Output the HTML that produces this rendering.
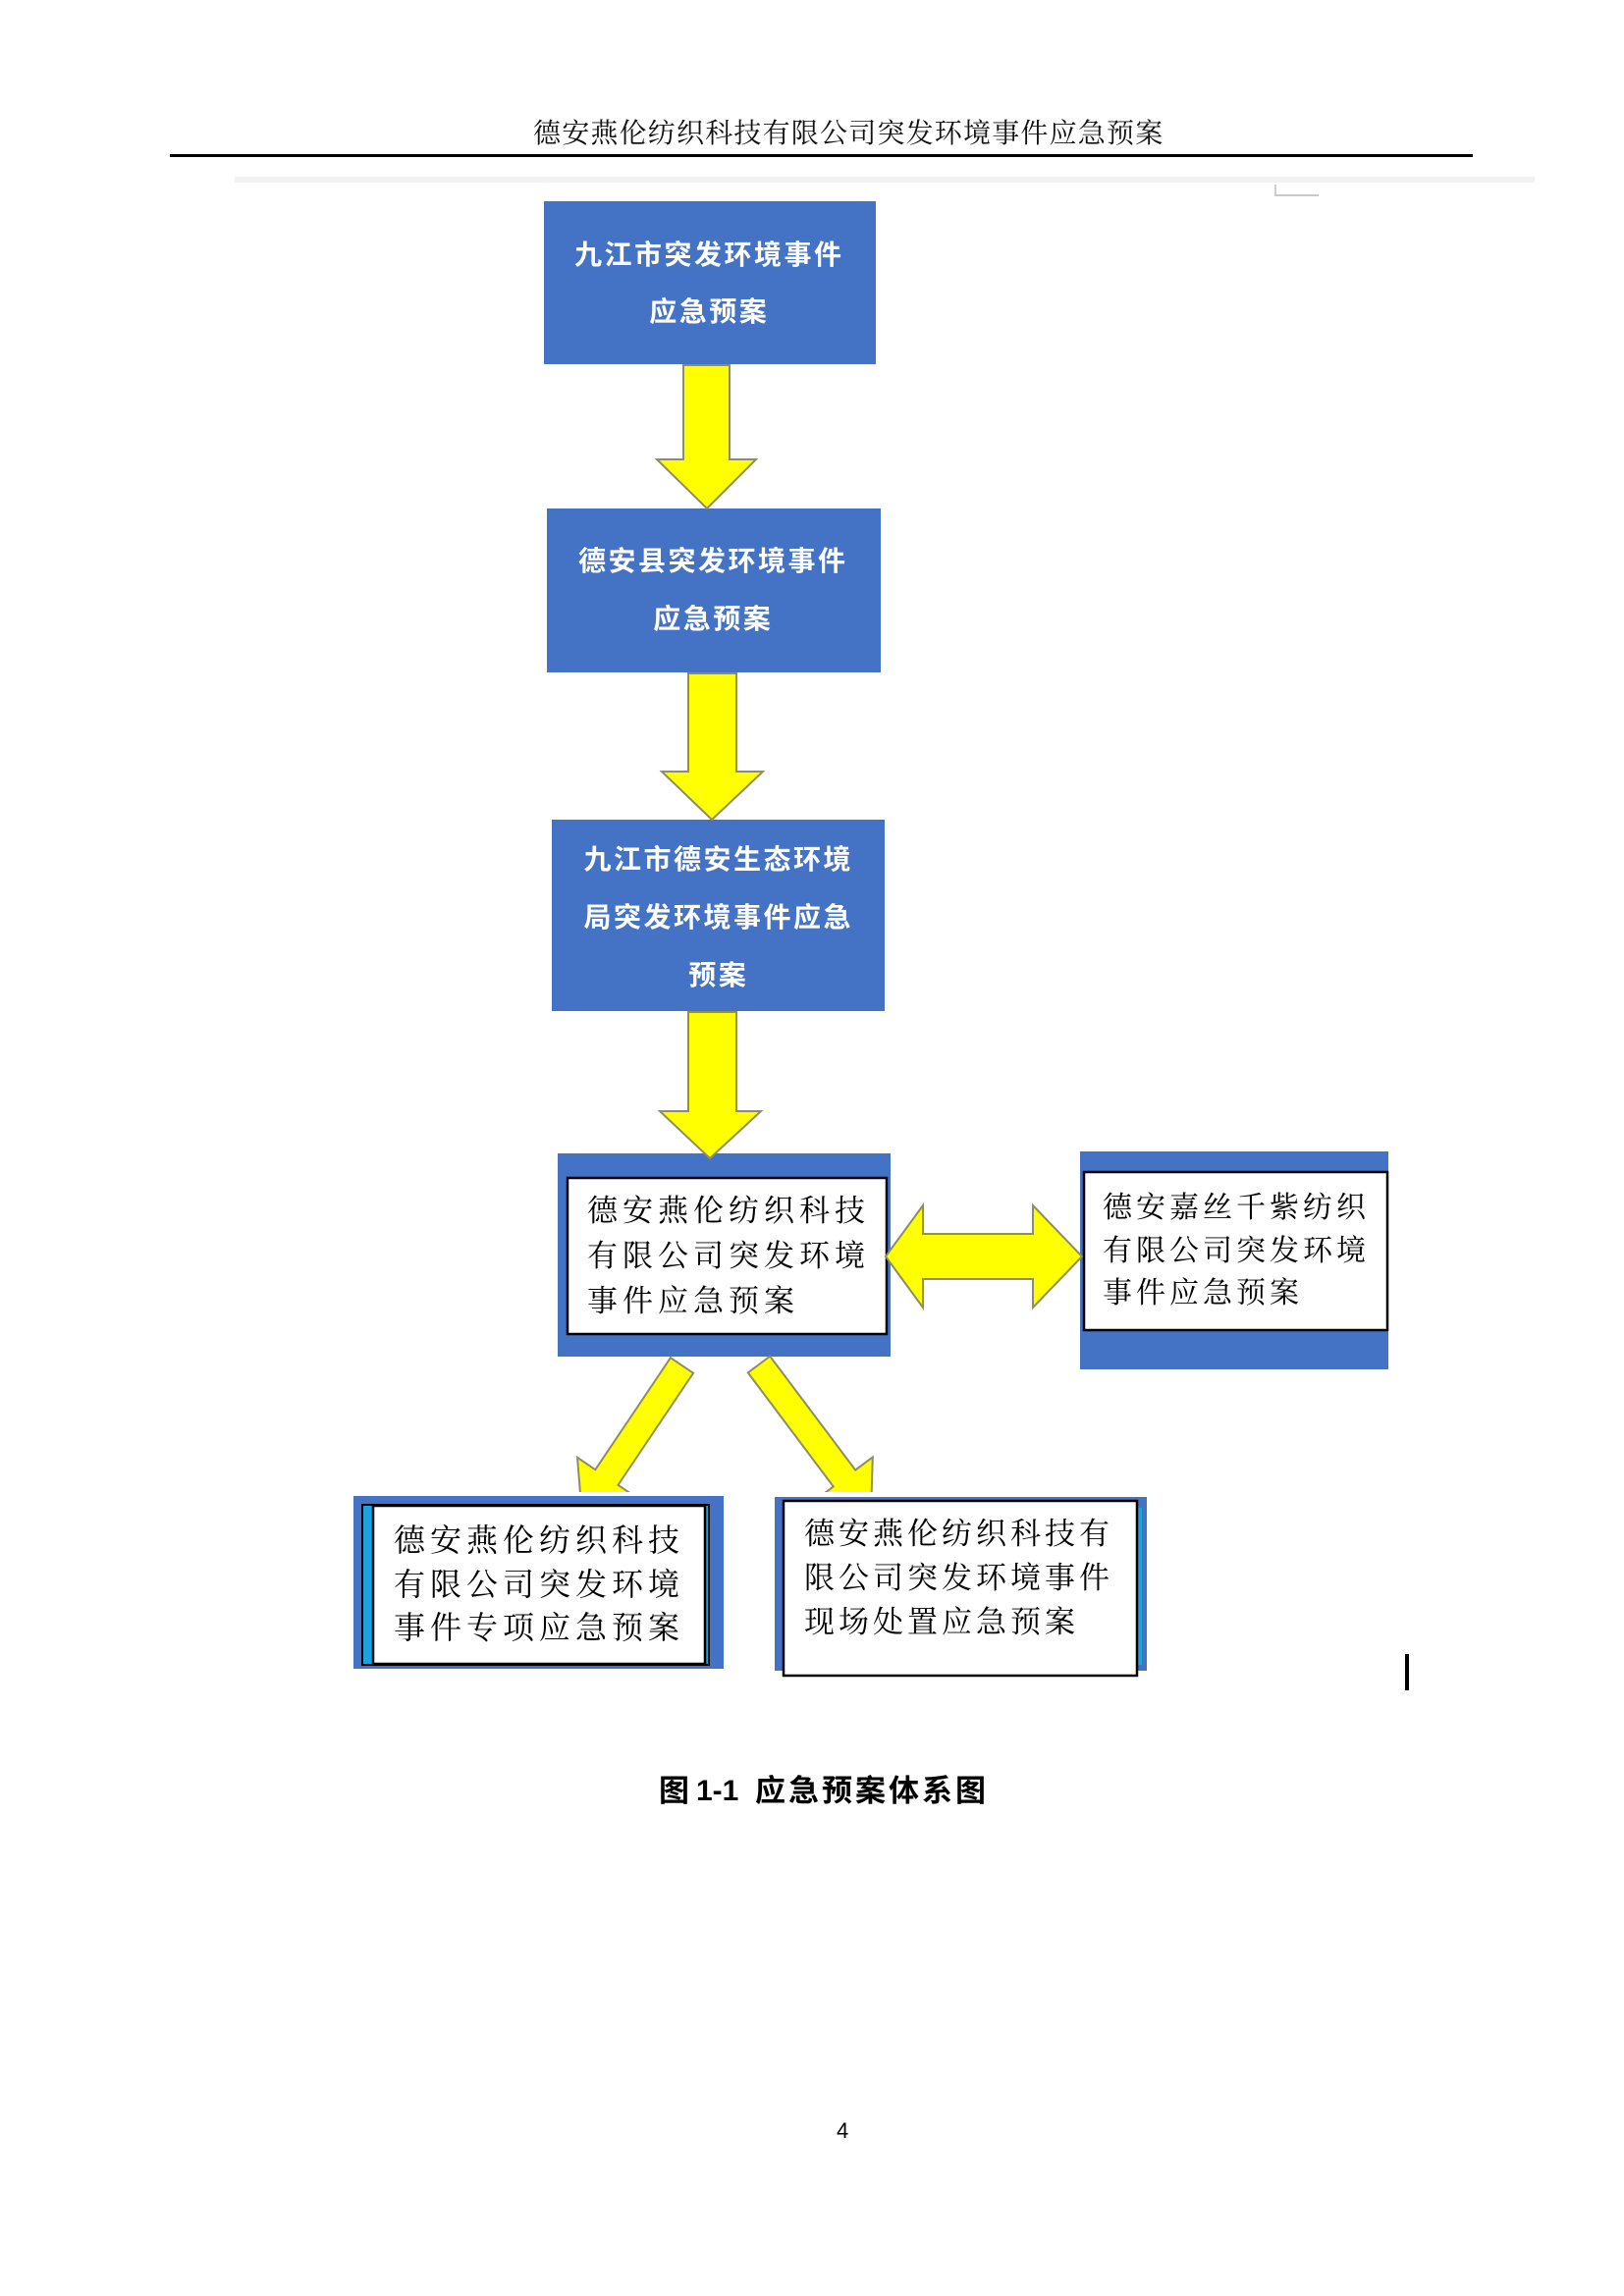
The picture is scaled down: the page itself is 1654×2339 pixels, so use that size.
<!DOCTYPE html>
<html>
<head>
<meta charset="utf-8">
<style>
  html,body{margin:0;padding:0;background:#fff;}
  body{width:1654px;height:2339px;position:relative;overflow:hidden;}
  .t{position:absolute;white-space:pre;}
  .hd{font-family:"Liberation Serif","Noto Serif CJK SC",serif;font-size:28px;line-height:36px;letter-spacing:1.2px;color:#111;}
  .bw{font-family:"Liberation Sans","Noto Sans CJK SC",sans-serif;font-weight:700;color:#fff;font-size:28px;letter-spacing:2.5px;text-align:center;padding-left:2.5px;box-sizing:border-box;}
  .sr{font-family:"Liberation Serif","Noto Serif CJK SC",serif;color:#000;}
  .cap{font-family:"Liberation Sans","Noto Sans CJK SC",sans-serif;font-weight:700;font-size:31px;line-height:40px;color:#000;}
</style>
</head>
<body>
<svg width="1654" height="2339" style="position:absolute;left:0;top:0" xmlns="http://www.w3.org/2000/svg">
  <defs>
    <clipPath id="clipd"><rect x="0" y="1370" width="1654" height="150"/></clipPath>
  </defs>
  <rect x="173" y="157" width="1327" height="3" fill="#000"/>
  <rect x="239" y="180" width="1324" height="6" fill="#f1f1f1"/>
  <line x1="1299" y1="188" x2="1299" y2="200" stroke="#bdbdbd" stroke-width="1.5"/>
  <line x1="1299" y1="199" x2="1343" y2="199" stroke="#c8c8c8" stroke-width="2"/>

  <rect x="554" y="205" width="338" height="166" fill="#4472c4"/>
  <rect x="557" y="518" width="340" height="167" fill="#4472c4"/>
  <rect x="562" y="835" width="339" height="195" fill="#4472c4"/>

  <rect x="568" y="1175" width="339" height="207" fill="#4472c4"/>
  <rect x="578" y="1200" width="325" height="159" fill="#fff" stroke="#000" stroke-width="2.5"/>

  <rect x="1100" y="1173" width="314" height="222" fill="#4472c4"/>
  <rect x="1104" y="1194" width="309" height="161" fill="#fff" stroke="#000" stroke-width="2.5"/>

  <rect x="360" y="1524" width="377" height="176" fill="#4472c4"/>
  <rect x="369" y="1533" width="353" height="163" fill="#1aa3e0" stroke="#000" stroke-width="2"/>
  <rect x="380" y="1534" width="338" height="161" fill="#fff" stroke="#000" stroke-width="2.5"/>

  <rect x="789" y="1525" width="379" height="177" fill="#4472c4"/>
  <rect x="1155" y="1536" width="8" height="160" fill="#1aa3e0"/>
  <rect x="798" y="1529" width="360" height="178" fill="#fff" stroke="#000" stroke-width="2.5"/>

  <g fill="#ffff00" stroke="#8e8e5e" stroke-width="2" stroke-linejoin="miter">
    <polygon points="696,372 743,372 743,468 770,468 720,518 669,468 696,468"/>
    <polygon points="701,686 750,686 750,786 777,786 725,835 674,786 701,786"/>
    <polygon points="701,1031 750,1031 750,1132 775,1132 723,1180 672,1132 701,1132"/>
    <polygon points="902,1280 940,1228 940,1257 1052,1257 1052,1228 1102,1280 1052,1332 1052,1303 940,1303 940,1332"/>
    <g clip-path="url(#clipd)">
      <polygon points="682.9,1383.2 706.1,1398.8 629.5,1512.8 647.8,1525.2 592.7,1542.4 588,1484.8 606.3,1497.2"/>
      <polygon points="761.8,1398.4 784.2,1381.6 871.2,1497.6 888.8,1484.4 887,1542 831.2,1527.6 848.8,1514.4"/>
    </g>
  </g>

  <rect x="1431" y="1685" width="4" height="37" fill="#000"/>
</svg>

<div class="t hd" style="left:543px;top:119px;">德安燕伦纺织科技有限公司突发环境事件应急预案</div>

<div class="t bw" style="left:552px;top:231px;width:338px;line-height:58px;">九江市突发环境事件</div>
<div class="t bw" style="left:552px;top:289px;width:338px;line-height:58px;">应急预案</div>
<div class="t bw" style="left:555px;top:542px;width:340px;line-height:59px;">德安县突发环境事件</div>
<div class="t bw" style="left:555px;top:601px;width:340px;line-height:59px;">应急预案</div>
<div class="t bw" style="left:561px;top:846px;width:339px;line-height:59px;">九江市德安生态环境</div>
<div class="t bw" style="left:561px;top:905px;width:339px;line-height:59px;">局突发环境事件应急</div>
<div class="t bw" style="left:561px;top:964px;width:339px;line-height:59px;">预案</div>

<div class="t sr" style="left:598px;top:1211px;font-size:31px;line-height:46px;letter-spacing:5px;">德安燕伦纺织科技
有限公司突发环境
事件应急预案</div>

<div class="t sr" style="left:1123px;top:1209px;font-size:30px;line-height:43.5px;letter-spacing:4px;">德安嘉丝千紫纺织
有限公司突发环境
事件应急预案</div>

<div class="t sr" style="left:401px;top:1547px;font-size:32px;line-height:44.5px;letter-spacing:5px;">德安燕伦纺织科技
有限公司突发环境
事件专项应急预案</div>

<div class="t sr" style="left:819px;top:1540px;font-size:31px;line-height:45px;letter-spacing:4px;">德安燕伦纺织科技有
限公司突发环境事件
现场处置应急预案</div>

<div class="t cap" style="left:671px;top:1805px;">图</div>
<div class="t cap" style="left:709px;top:1805px;font-family:'Liberation Sans',sans-serif;font-size:30px;">1-1</div>
<div class="t cap" style="left:769px;top:1805px;letter-spacing:3px;">应急预案体系图</div>

<div class="t" style="left:852px;top:2157px;font-family:'Liberation Sans',sans-serif;font-size:22px;line-height:28px;color:#000;">4</div>
</body>
</html>
